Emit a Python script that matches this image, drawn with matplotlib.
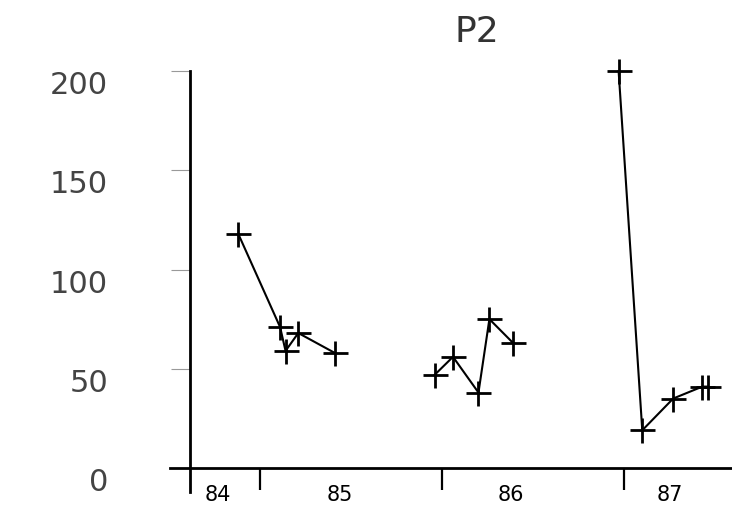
import matplotlib
matplotlib.use('Agg')
import matplotlib.pyplot as plt

# sampling dates (decimal years) and values, one group per campaign
dates_85 = [84.88, 85.11, 85.14, 85.21, 85.41]
values_85 = [118, 71, 59, 68, 58]
dates_86 = [85.96, 86.06, 86.20, 86.26, 86.39]
values_86 = [47, 56, 38, 75, 63]
dates_87 = [86.97, 87.10, 87.27, 87.43, 87.46]
values_87 = [200, 19, 35, 41, 41]

year_ticks = [85, 86, 87]
year_label_pos = [84.77, 85.44, 86.38, 87.25]
year_labels = ['84', '85', '86', '87']
value_ticks = [0, 50, 100, 150, 200]
value_labels = ['0', '50', '100', '150', '200']

fig = plt.figure(figsize=(7.32, 5.11), dpi=100)
ax = fig.add_axes([190 / 732, 43 / 511, 542 / 732, 397 / 511])

# one broken line per campaign
for x, y in [(dates_85, values_85), (dates_86, values_86), (dates_87, values_87)]:
    ax.plot(x, y, color='black', linewidth=1.5, marker='+', markersize=18,
            markeredgewidth=2.0, clip_on=False)

ax.set_xlim(84.615, 87.593)
ax.set_ylim(0, 200)

# axes drawn like the old plotter: y axis runs below zero, x axis starts left of it
for side in ['top', 'right']:
    ax.spines[side].set_visible(False)
ax.spines['left'].set_linewidth(2)
ax.spines['bottom'].set_linewidth(2)
ax.spines['left'].set_bounds(-12, 200)
ax.spines['bottom'].set_bounds(84.505, 87.593)

# year boundaries as long ticks, year labels in between
ax.set_xticks(year_ticks, [''] * len(year_ticks))
ax.tick_params(axis='x', which='major', direction='out', length=16, width=1.6)
ax.set_xticks(year_label_pos, year_labels, minor=True)
ax.tick_params(axis='x', which='minor', length=0, pad=12, labelsize=15)

ax.set_yticks(value_ticks, value_labels)
ax.tick_params(axis='y', direction='out', length=14, width=0.8,
               color='#999999', pad=45, labelsize=22, labelcolor='#444444')
for label in ax.get_yticklabels():
    label.set_verticalalignment('top')

ax.set_title('P2', x=0.53, pad=21, fontsize=26, color='#333333')

fig.savefig('out.png', dpi=100)
